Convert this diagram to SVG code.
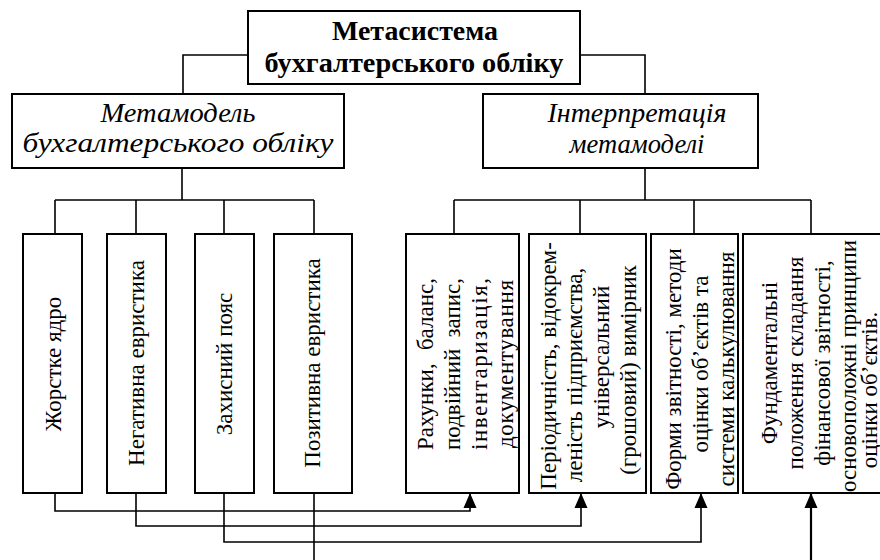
<svg xmlns="http://www.w3.org/2000/svg" width="880" height="560" viewBox="0 0 880 560">
<style>
.box{fill:#fff;stroke:#000;stroke-width:2}
.ln{fill:none;stroke:#000;stroke-width:1.6}
.t{font-family:"Liberation Serif","Times New Roman",serif;font-size:23px;fill:#000;text-anchor:middle}
.b{font-weight:bold;font-size:27px}
.i{font-style:italic;font-size:27px}
.s{text-anchor:start}
.e{text-anchor:end}
</style>
<rect width="880" height="560" fill="#fff"/>
<g id="connectors">
<path class="ln" d="M248,55 H183 V94"/>
<path class="ln" d="M580,55 H645 V94"/>
<path class="ln" d="M182,168 V200 M55,200 H314 M55,200 V234 M136,200 V234 M224,200 V234 M314,200 V234"/>
<path class="ln" d="M645,168 V200 M454,200 H811 M454,200 V234 M580,200 V234 M694,200 V234 M811,200 V234"/>
<path class="ln" d="M55,493 V511 H470 V494"/>
<path class="ln" d="M136,493 V526 H581 V494"/>
<path class="ln" d="M224,493 V542 H701 V494"/>
<path class="ln" d="M314,493 V562"/>
<path class="ln" d="M811,562 V494" style="stroke-width:2.2"/>
<path d="M470,493 L463.5,508 L476.5,508 Z M581,493 L574.5,508 L587.5,508 Z M701,493 L694.5,508 L707.5,508 Z M811,493 L804.5,508 L817.5,508 Z" fill="#000"/>
</g>
<g id="metasystem">
<rect class="box" x="248" y="11" width="332" height="73"/>
<text class="t b" x="415" y="40" textLength="166" lengthAdjust="spacingAndGlyphs">Метасистема</text>
<text class="t b" x="414" y="72" textLength="299" lengthAdjust="spacingAndGlyphs">бухгалтерського обліку</text>
</g>
<g id="metamodel">
<rect class="box" x="12" y="94" width="332" height="74"/>
<text class="t i" x="178" y="122" textLength="155" lengthAdjust="spacingAndGlyphs">Метамодель</text>
<text class="t i" x="178" y="152" textLength="311" lengthAdjust="spacingAndGlyphs">бухгалтерського обліку</text>
</g>
<g id="interpretation">
<rect class="box" x="483" y="94" width="275" height="74"/>
<text class="t i" x="637" y="122" textLength="179" lengthAdjust="spacingAndGlyphs">Інтерпретація</text>
<text class="t i" x="637" y="153" textLength="135" lengthAdjust="spacingAndGlyphs">метамоделі</text>
</g>
<g id="hard-core">
<rect class="box" x="23" y="234" width="59" height="259"/>
<text class="t" transform="translate(61,364) rotate(-90)">Жорстке ядро</text>
</g>
<g id="negative-heuristic">
<rect class="box" x="107" y="234" width="59" height="259"/>
<text class="t" transform="translate(144,363) rotate(-90)">Негативна евристика</text>
</g>
<g id="protective-belt">
<rect class="box" x="195" y="234" width="59" height="259"/>
<text class="t" transform="translate(232,364) rotate(-90)">Захисний пояс</text>
</g>
<g id="positive-heuristic">
<rect class="box" x="274" y="234" width="78" height="259"/>
<text class="t" transform="translate(320,363) rotate(-90)">Позитивна евристика</text>
</g>
<g id="accounts">
<rect class="box" x="406" y="234" width="113" height="259"/>
<text class="t" transform="translate(433,364) rotate(-90)"><tspan class="s" x="-86">Рахунки,</tspan><tspan class="e" x="86">баланс,</tspan></text>
<text class="t" transform="translate(460,364) rotate(-90)"><tspan class="s" x="-86">подвійний</tspan><tspan class="e" x="86">запис,</tspan></text>
<text class="t" transform="translate(487,364) rotate(-90)" textLength="172" lengthAdjust="spacing">інвентаризація,</text>
<text class="t" transform="translate(513,364) rotate(-90)" textLength="168" lengthAdjust="spacing">документування</text>
</g>
<g id="periodicity">
<rect class="box" x="529" y="234" width="117" height="259"/>
<text class="t" transform="translate(556,366) rotate(-90)">Періодичність, відокрем-</text>
<text class="t" transform="translate(582,375) rotate(-90)">леність підприємства,</text>
<text class="t" transform="translate(609,357) rotate(-90)">універсальний</text>
<text class="t" transform="translate(636,370) rotate(-90)">(грошовий) вимірник</text>
</g>
<g id="forms">
<rect class="box" x="651" y="234" width="87" height="259"/>
<text class="t" transform="translate(681,369) rotate(-90)">Форми звітності, методи</text>
<text class="t" transform="translate(708,364) rotate(-90)">оцінки об’єктів та</text>
<text class="t" transform="translate(734,369) rotate(-90)">системи калькулювання</text>
</g>
<g id="fundamentals">
<rect class="box" x="743" y="234" width="150" height="259"/>
<text class="t" transform="translate(777,363) rotate(-90)">Фундаментальні</text>
<text class="t" transform="translate(803,363) rotate(-90)">положення складання</text>
<text class="t" transform="translate(830,363) rotate(-90)">фінансової звітності,</text>
<text class="t" transform="translate(856,366) rotate(-90)">основоположні принципи</text>
<text class="t" transform="translate(877,390) rotate(-90)">оцінки об’єктів.</text>
</g>
</svg>
